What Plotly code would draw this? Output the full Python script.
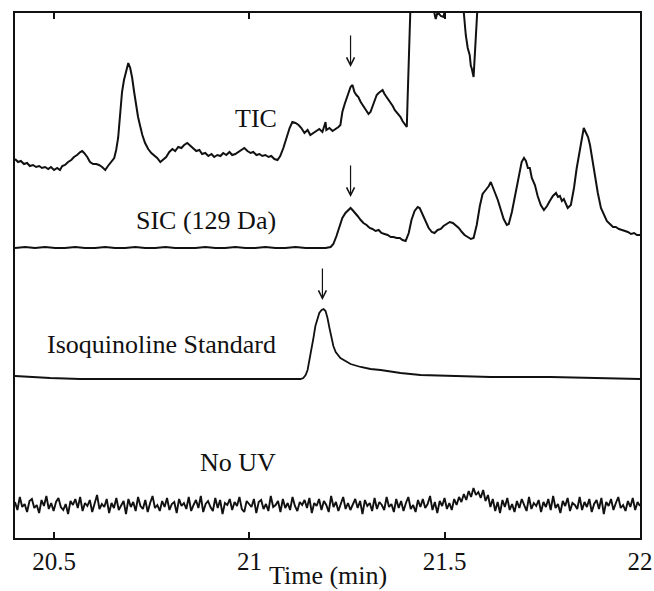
import numpy as np
import plotly.graph_objects as go

# ---------------- data (time in min, signal in arbitrary units) ----------------
TIC_T = [20.400, 20.408, 20.415, 20.423, 20.431, 20.438, 20.446, 20.454, 20.462, 20.469,
         20.477, 20.485, 20.492, 20.500, 20.508, 20.515, 20.521, 20.528, 20.536, 20.544,
         20.551, 20.559, 20.567, 20.572, 20.577, 20.585, 20.592, 20.600, 20.608, 20.615,
         20.623, 20.631, 20.638, 20.646, 20.654, 20.659, 20.664, 20.669, 20.674, 20.679,
         20.685, 20.690, 20.695, 20.700, 20.705, 20.710, 20.715, 20.721, 20.726, 20.733,
         20.741, 20.749, 20.756, 20.764, 20.772, 20.779, 20.787, 20.795, 20.803, 20.810,
         20.818, 20.826, 20.833, 20.841, 20.849, 20.856, 20.864, 20.872, 20.879, 20.887,
         20.895, 20.903, 20.910, 20.918, 20.926, 20.933, 20.941, 20.949, 20.956, 20.964,
         20.972, 20.979, 20.987, 20.995, 21.003, 21.010, 21.018, 21.026, 21.033, 21.041,
         21.049, 21.056, 21.064, 21.072, 21.079, 21.087, 21.095, 21.103, 21.110, 21.118,
         21.126, 21.133, 21.141, 21.149, 21.156, 21.164, 21.172, 21.179, 21.187, 21.195,
         21.197, 21.205, 21.213, 21.221, 21.228, 21.233, 21.238, 21.244, 21.249, 21.254,
         21.259, 21.264, 21.269, 21.274, 21.279, 21.285, 21.290, 21.295, 21.300, 21.305,
         21.310, 21.315, 21.321, 21.326, 21.331, 21.336, 21.341, 21.346, 21.351, 21.356,
         21.362, 21.367, 21.372, 21.377, 21.382, 21.387, 21.392, 21.397, 21.403, 21.405,
         21.408, 21.410, 21.413, 21.418, 21.438, 21.469, 21.477, 21.482, 21.490, 21.497,
         21.503, 21.510, 21.528, 21.544, 21.549, 21.554, 21.559, 21.564, 21.567, 21.569,
         21.574, 21.579, 21.585, 21.590, 21.618, 22.000]
TIC_V = [6, 3, 4, 1, 2, -1, 0, -2, -1, -3,
         -2, -4, -2, -5, -3, -5, -1, 0, 3, 5,
         8, 10, 13, 14, 12, 8, 3, 1, 1, 0,
         -2, -5, -1, 3, 7, 15, 27, 50, 73, 85,
         95, 102, 97, 87, 73, 60, 48, 38, 30, 22,
         16, 12, 10, 7, 3, 5, 8, 13, 16, 14,
         18, 17, 20, 22, 19, 17, 14, 15, 11, 12,
         9, 11, 8, 10, 9, 12, 10, 13, 10, 11,
         13, 15, 17, 14, 12, 13, 10, 11, 9, 10,
         8, 9, 6, 5, 9, 17, 27, 37, 43, 42,
         40, 37, 32, 35, 30, 32, 34, 36, 33, 43,
         35, 37, 34, 36, 38, 40, 53, 61, 67, 73,
         78, 80, 73, 70, 68, 63, 60, 57, 54, 51,
         53, 59, 65, 70, 72, 74, 75, 71, 68, 66,
         62, 59, 55, 53, 50, 48, 44, 41, 38, 65,
         105, 145, 185, 230, 260, 160, 146, 153, 149, 148,
         160, 190, 200, 170, 152, 130, 117, 110, 99, 97,
         88, 125, 160, 200, 260, 260]

SIC_T = [20.400, 20.426, 20.451, 20.477, 20.503, 20.528, 20.554, 20.579, 20.605, 20.631,
         20.656, 20.682, 20.708, 20.733, 20.759, 20.785, 20.810, 20.836, 20.862, 20.887,
         20.913, 20.938, 20.964, 20.990, 21.015, 21.041, 21.067, 21.092, 21.118, 21.144,
         21.169, 21.195, 21.208, 21.215, 21.223, 21.231, 21.238, 21.246, 21.254, 21.259,
         21.264, 21.269, 21.277, 21.285, 21.292, 21.300, 21.308, 21.315, 21.323, 21.331,
         21.338, 21.346, 21.354, 21.362, 21.369, 21.377, 21.385, 21.392, 21.400, 21.408,
         21.415, 21.423, 21.431, 21.436, 21.444, 21.451, 21.459, 21.467, 21.474, 21.482,
         21.490, 21.497, 21.505, 21.513, 21.521, 21.528, 21.536, 21.544, 21.551, 21.559,
         21.567, 21.574, 21.582, 21.590, 21.597, 21.605, 21.613, 21.618, 21.623, 21.628,
         21.636, 21.644, 21.651, 21.659, 21.664, 21.672, 21.679, 21.687, 21.692, 21.697,
         21.703, 21.708, 21.713, 21.718, 21.723, 21.731, 21.738, 21.746, 21.754, 21.762,
         21.769, 21.777, 21.785, 21.790, 21.795, 21.800, 21.805, 21.810, 21.815, 21.823,
         21.831, 21.838, 21.846, 21.851, 21.856, 21.862, 21.867, 21.872, 21.877, 21.882,
         21.887, 21.892, 21.900, 21.908, 21.915, 21.923, 21.931, 21.938, 21.946, 21.954,
         21.962, 21.969, 21.977, 21.985, 21.992, 22.000]
SIC_V = [0, 1, 0, 1, 0, 0, 1, 0, 0, 1,
         0, 0, 1, 0, 0, 1, 0, 0, 0, 1,
         0, 0, 1, 0, 0, 1, 0, 0, 1, 0,
         0, 0, 1, 4, 12, 22, 30, 35, 38, 40,
         38, 36, 32, 28, 25, 23, 20, 19, 17, 18,
         15, 14, 13, 11, 11, 10, 10, 8, 7, 15,
         28, 37, 41, 40, 33, 26, 20, 16, 15, 18,
         19, 22, 24, 26, 25, 23, 20, 16, 13, 11,
         9, 10, 23, 42, 54, 58, 62, 66, 60, 56,
         48, 39, 29, 23, 24, 36, 51, 64, 77, 86,
         90, 87, 80, 80, 70, 63, 52, 43, 38, 42,
         47, 52, 55, 51, 52, 47, 49, 44, 40, 43,
         60, 80, 98, 108, 120, 115, 111, 103, 90, 80,
         68, 55, 40, 33, 27, 24, 21, 21, 19, 18,
         17, 16, 14, 15, 13, 13]

ISO_T = [20.400, 20.438, 20.490, 20.567, 20.669, 20.874, 21.028, 21.131, 21.138, 21.144,
         21.149, 21.154, 21.159, 21.164, 21.169, 21.174, 21.179, 21.185, 21.190, 21.195,
         21.200, 21.205, 21.210, 21.215, 21.221, 21.226, 21.233, 21.246, 21.259, 21.285,
         21.310, 21.336, 21.387, 21.438, 21.515, 21.618, 21.772, 21.900, 22.000]
ISO_V = [3, 2, 1, 0, 0, 0, 0, 0, 1, 4,
         9, 19, 31, 41, 53, 61, 66, 69, 70, 68,
         61, 51, 41, 33, 27, 24, 21, 18, 15, 12,
         10, 9, 6, 4, 3, 2, 2, 1, 0]

NOUV_V = [3, -5, 8, -2, 1, -7, 4, 6, -3, 0, -8, 5, -1, 9, -4, 2, -6, 3, 7, -2,
          -5, 1, -9, 4, 0, 6, -3, 8, -6, 2, -1, 5, -7, 3, 10, -4, 1, -2, 6, -8,
          2, -3, 7, -5, 0, 4, -9, 6, -2, 3, -6, 8, -1, -4, 5, -7, 2, 9, -3, 0,
          -6, 4, -2, 7, -5, 1, 3, -8, 6, -1, 2, -4, 8, -6, 0, 5, -3, 9, -7, 1,
          4, -2, -6, 7, -3, 5, -9, 2, 0, 6, -5, 3, -1, 8, -4, -7, 4, 1, -2, 6,
          -8, 3, 5, -4, 1, -6, 9, -2, 0, 4, -7, 6, -3, 2, -5, 8, -1, -6, 3, 0,
          5, -3, 7, -8, 2, -1, 6, -5, 4, 0, -7, 9, -2, 3, -6, 1, 8, -4, 2, -5,
          0, 6, -3, 4, -9, 5, -1, 2, -6, 7, -4, 3, 0, -5, 8, -2, 1, -7, 6, -3,
          4, -6, 2, 8, -4, 0, -7, 5, -2, 6, -3, 1, 9, -5, 3, -8, 4, -1, 7, -4,
          2, -5, 6, 0, 8, 3, 11, 5, 14, 8, 17, 10, 13, 7, 15, 4, 10, -2, 6, -6,
          3, -8, 5, -2, 7, -5, 1, -7, 4, -3, 6, 0, -6, 8, -4, 2, -1, 5, -7, 3,
          -2, 6, -5, 9, -3, 1, -8, 4, -1, 7, -6, 2, 0, -4, 8, -5, 3, -2, 6, -7,
          1, 5, -4, 7, -9, 3, -1, 6, -5, 2, 8, -3, 0, -6, 4, -2, 7, -5, 3, -1]
NOUV_T = np.linspace(20.4, 22.0, len(NOUV_V))

X_TICKS = [20.5, 21, 21.5, 22]
X_TICK_LABELS = ["20.5", "21", "21.5", "22"]

LABELS = ["TIC", "SIC (129 Da)", "Isoquinoline Standard", "No UV"]
ARROW_TIMES = [21.259, 21.259, 21.187]

# ---------------- layout constants (vertical stacking offsets) ----------------
OFF_TIC, OFF_SIC, OFF_ISO, OFF_NOUV = 373, 290, 159, 33

FONT = "Liberation Serif, Times New Roman, serif"
BLACK = "#111111"

fig = go.Figure()
for t, v, off, w in [(TIC_T, TIC_V, OFF_TIC, 2.0), (SIC_T, SIC_V, OFF_SIC, 2.0),
                     (ISO_T, ISO_V, OFF_ISO, 1.8), (NOUV_T, NOUV_V, OFF_NOUV, 1.9)]:
    fig.add_trace(go.Scatter(x=t, y=np.asarray(v) + off, mode="lines",
                             line=dict(color=BLACK, width=w), showlegend=False,
                             hoverinfo="skip"))

# labels
label_pos = [(21.018, 420), (20.890, 318), (20.776, 194), (20.972, 76)]
for txt, (lx, ly) in zip(LABELS, label_pos):
    fig.add_annotation(x=lx, y=ly, text=txt, showarrow=False,
                       font=dict(family=FONT, size=26, color=BLACK),
                       xanchor="center", yanchor="middle")

# arrows
arrow_tips = [OFF_TIC + 98, OFF_SIC + 51, OFF_ISO + 79]
for ax_t, tip in zip(ARROW_TIMES, arrow_tips):
    fig.add_annotation(x=ax_t, y=tip, text="", showarrow=True, ax=0, ay=-33,
                       arrowhead=5, arrowsize=1.3, arrowwidth=1.2,
                       arrowcolor=BLACK, standoff=0)

# axis title as annotation
fig.add_annotation(x=0.5, y=-0.101, xref="paper", yref="paper", text="Time (min)",
                   showarrow=False, font=dict(family=FONT, size=26, color=BLACK),
                   xanchor="center", yanchor="bottom", borderpad=0)

fig.update_layout(
    width=654, height=591,
    margin=dict(l=15, r=14, t=13, b=53, autoexpand=False),
    paper_bgcolor="white", plot_bgcolor="white",
    xaxis=dict(range=[20.4, 22.0], tickvals=X_TICKS, ticktext=X_TICK_LABELS,
               ticks="inside", ticklen=6, tickwidth=1.5, tickcolor=BLACK,
               showline=True, linewidth=2, linecolor=BLACK, mirror="ticks",
               showgrid=False, zeroline=False, automargin=False,
               tickfont=dict(family=FONT, size=25, color=BLACK)),
    yaxis=dict(range=[0, 525], showticklabels=False, ticks="",
               showline=True, linewidth=2, linecolor=BLACK, mirror=True,
               showgrid=False, zeroline=False, automargin=False),
)

fig.write_html("out.html")
